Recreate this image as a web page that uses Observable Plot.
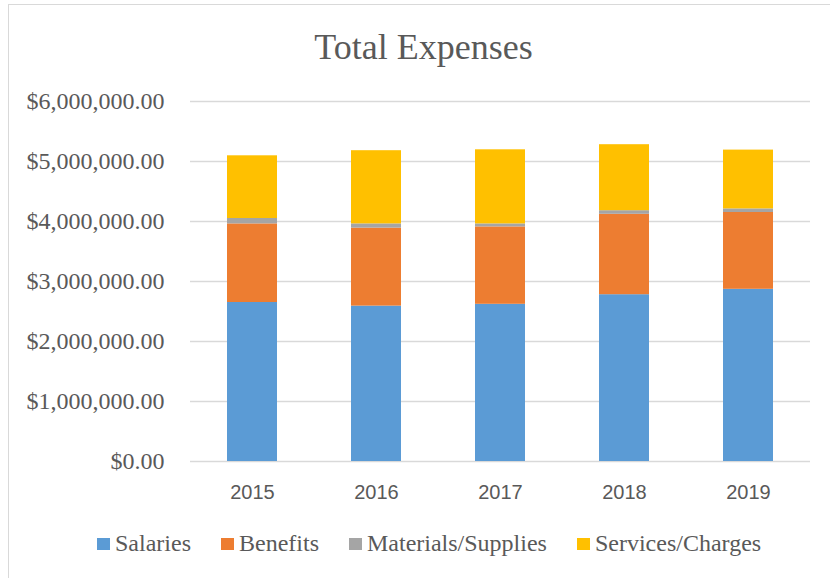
<!DOCTYPE html>
<html>
<head>
<meta charset="utf-8">
<script src="https://cdn.jsdelivr.net/npm/d3@7"></script>
<script src="https://cdn.jsdelivr.net/npm/@observablehq/plot@0.6"></script>
<style>
  html, body { margin: 0; padding: 0; background: #fff; }
  #wrap { position: relative; width: 830px; height: 578px; overflow: hidden; background: #fff; }
  #border { position: absolute; left: 8px; top: 4px; width: 900px; height: 700px; border: 1.5px solid #d9d9d9; box-sizing: border-box; }
  #title { position: absolute; left: 0; top: 29px; width: 847px; text-align: center; font-family: "Liberation Serif", "Times New Roman", serif; font-size: 36px; line-height: 36px; color: #595959; }
  #chart { position: absolute; left: 0; top: 0; }
  #legend { position: absolute; left: 97px; top: 531px; display: flex; gap: 30px; font-family: "Liberation Serif", "Times New Roman", serif; font-size: 24px; line-height: 24px; color: #595959; white-space: nowrap; }
  #legend .sw { display: inline-block; width: 13px; height: 12px; margin-right: 5px; vertical-align: 1px; }
</style>
</head>
<body>
<div id="wrap">
  <div id="border"></div>
  <div id="chart"></div>
  <div id="title">Total Expenses</div>
  <div id="legend"></div>
</div>
<script>
const years = ["2015", "2016", "2017", "2018", "2019"];
const seriesNames = ["Salaries", "Benefits", "Materials/Supplies", "Services/Charges"];
const seriesColors = ["#5b9bd5", "#ed7d31", "#a5a5a5", "#ffc000"];
const salaries = [2650000, 2590000, 2620000, 2780000, 2870000];
const benefits = [1310000, 1300000, 1290000, 1340000, 1280000];
const materials = [90000, 70000, 50000, 60000, 60000];
const services = [1045000, 1220000, 1235000, 1100000, 980000];
const yTicks = [0, 1000000, 2000000, 3000000, 4000000, 5000000, 6000000];

const seriesValues = [salaries, benefits, materials, services];
const data = [];
seriesNames.forEach((s, i) => {
  years.forEach((y, j) => data.push({year: y, series: s, value: seriesValues[i][j]}));
});

const fmt = v => "$" + d3.format(",.2f")(v);

const chart = Plot.plot({
  width: 830,
  height: 510,
  marginTop: 101,
  marginBottom: 49,
  marginLeft: 190,
  marginRight: 20,
  x: {domain: years, paddingInner: 0.6, paddingOuter: 0.3, label: null},
  y: {domain: [0, 6000000], label: null},
  color: {domain: seriesNames, range: seriesColors},
  marks: [
    Plot.gridY(yTicks, {stroke: "#d9d9d9", strokeOpacity: 1, strokeWidth: 1.3}),
    Plot.barY(data, {x: "year", y: "value", fill: "series", order: seriesNames}),
    Plot.axisY(yTicks, {tickSize: 0, tickPadding: 26, tickFormat: fmt, fontSize: 24, fill: "#595959", label: null,
      fontFamily: "Liberation Serif, Times New Roman, serif"}),
    Plot.axisX({tickSize: 0, tickPadding: 23, fontSize: 20, fill: "#595959", label: null,
      fontFamily: "Liberation Sans, Arial, sans-serif"})
  ]
});
document.getElementById("chart").appendChild(chart);

const legend = d3.select("#legend");
seriesNames.forEach((s, i) => {
  const item = legend.append("span");
  item.append("span").attr("class", "sw").style("background", seriesColors[i]);
  item.append("span").text(s);
});
</script>
</body>
</html>
